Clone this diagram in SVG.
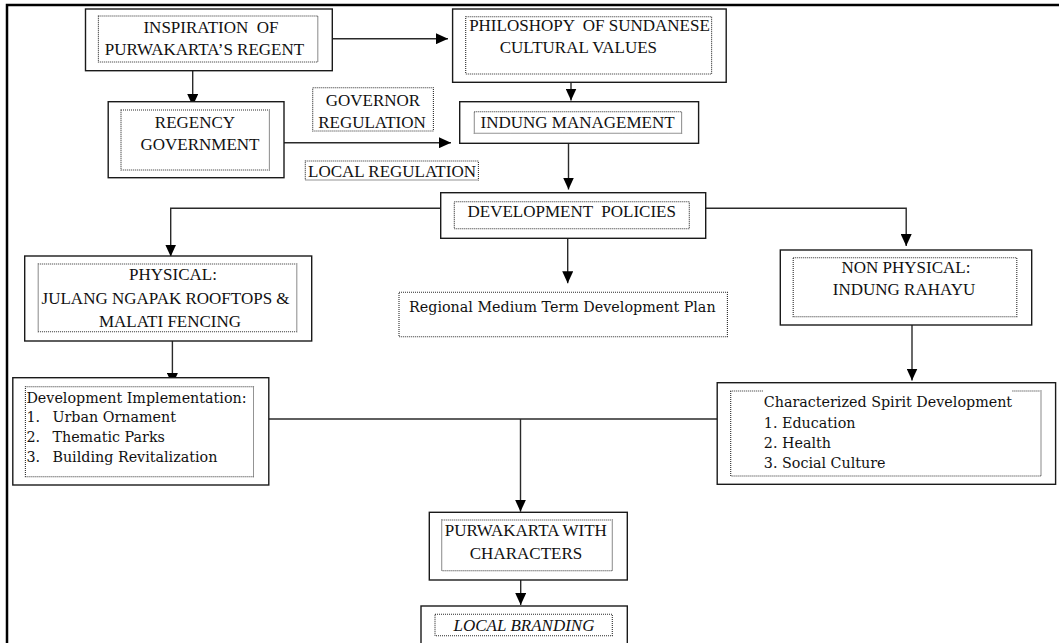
<svg xmlns="http://www.w3.org/2000/svg" width="1059" height="643" viewBox="0 0 1059 643">
<style>
.box{fill:#fff;stroke:#1a1a1a;stroke-width:1.4}
.dot{fill:none;stroke:#2a2a2a;stroke-width:1.1;stroke-dasharray:1 1}
.cap{font-family:"Liberation Serif","Times New Roman",serif;font-size:17px;fill:#111;text-anchor:middle}
.low{font-family:"DejaVu Serif","Liberation Serif",serif;font-size:14.3px;fill:#111}
.con{fill:none;stroke:#2a2a2a;stroke-width:1.4}
.frame{fill:none;stroke:#000;stroke-width:2.5}
</style>
<defs>
<marker id="ah" viewBox="0 0 12 11" refX="12" refY="5.5" markerWidth="12" markerHeight="11" markerUnits="userSpaceOnUse" orient="auto">
<path d="M0,0 L12,5.5 L0,11 Z" fill="#000"/>
</marker>
</defs>
<rect width="1059" height="643" fill="#fff"/>
<path class="frame" d="M7,643 V5 H1059"/>

<g id="connectors">
<path class="con" d="M332.3,38.7 H448" marker-end="url(#ah)"/>
<path class="con" d="M192.7,70.7 V106" marker-end="url(#ah)"/>
<path class="con" d="M284,142.7 H451" marker-end="url(#ah)"/>
<path class="con" d="M571,82.3 V100.5" marker-end="url(#ah)"/>
<path class="con" d="M568.5,143.3 V189.5" marker-end="url(#ah)"/>
<path class="con" d="M440.7,208.3 H170.7 V256.5" marker-end="url(#ah)"/>
<path class="con" d="M567.7,238.3 V283.3" marker-end="url(#ah)"/>
<path class="con" d="M705.7,208.3 H906.2 V246" marker-end="url(#ah)"/>
<path class="con" d="M172.4,341 V385" marker-end="url(#ah)"/>
<path class="con" d="M912,325 V380.5" marker-end="url(#ah)"/>
<path class="con" d="M268.8,419 H717.2"/>
<path class="con" d="M520.5,419 V511.7" marker-end="url(#ah)"/>
<path class="con" d="M520.7,580 V605" marker-end="url(#ah)"/>
</g>

<g id="inspiration">
<rect class="box" x="85.5" y="9" width="246.8" height="61.7"/>
<rect class="dot" x="98.4" y="16" width="219.4" height="46"/>
<text class="cap" x="211" y="33.3" xml:space="preserve">INSPIRATION  OF</text>
<text class="cap" x="204.5" y="55">PURWAKARTA’S REGENT</text>
</g>

<g id="philosophy">
<rect class="box" x="452.6" y="9" width="273.6" height="73.3"/>
<rect class="dot" x="465.7" y="16.7" width="245.9" height="57.3"/>
<text class="cap" x="589.5" y="30.7" xml:space="preserve">PHILOSHOPY  OF SUNDANESE</text>
<text class="cap" x="578.4" y="53.3">CULTURAL VALUES</text>
</g>

<g id="regency">
<rect class="box" x="108.2" y="101.7" width="175.8" height="76"/>
<rect class="dot" x="121" y="110" width="148.4" height="60"/>
<text class="cap" x="195" y="128.3">REGENCY</text>
<text class="cap" x="200" y="150">GOVERNMENT</text>
</g>

<g id="governor-regulation">
<rect class="dot" x="312.7" y="87.7" width="120.7" height="43.3"/>
<text class="cap" x="373" y="106">GOVERNOR</text>
<text class="cap" x="372" y="128.3">REGULATION</text>
</g>

<g id="local-regulation">
<rect class="dot" x="305.3" y="161" width="173.1" height="19"/>
<text class="cap" x="392" y="176.7">LOCAL REGULATION</text>
</g>

<g id="indung-management">
<rect class="box" x="459.7" y="101.7" width="238.9" height="41.6"/>
<rect class="dot" x="474.3" y="111.7" width="207.3" height="21.6"/>
<text class="cap" x="577.6" y="128.3">INDUNG MANAGEMENT</text>
</g>

<g id="development-policies">
<rect class="box" x="440.7" y="192.7" width="265" height="45.6"/>
<rect class="dot" x="454.3" y="201.7" width="235" height="27"/>
<text class="cap" x="571.7" y="216.7" xml:space="preserve">DEVELOPMENT  POLICIES</text>
</g>

<g id="physical">
<rect class="box" x="24.7" y="256" width="287" height="85"/>
<rect class="dot" x="38.2" y="264" width="258.6" height="67.7"/>
<text class="cap" x="173" y="280">PHYSICAL:</text>
<text class="cap" x="165.6" y="304">JULANG NGAPAK ROOFTOPS &amp;</text>
<text class="cap" x="170" y="326.7">MALATI FENCING</text>
</g>

<g id="regional-plan">
<rect class="dot" x="399" y="292.3" width="328.4" height="44.4"/>
<text class="low" x="409" y="311.7">Regional Medium Term Development Plan</text>
</g>

<g id="non-physical">
<rect class="box" x="780.3" y="250" width="251.4" height="75"/>
<rect class="dot" x="793.2" y="257.7" width="223.6" height="59"/>
<text class="cap" x="906" y="273.3">NON PHYSICAL:</text>
<text class="cap" x="904" y="295">INDUNG RAHAYU</text>
</g>

<g id="development-implementation">
<rect class="box" x="12.8" y="377.7" width="256" height="107.3"/>
<rect class="dot" x="25.4" y="386.7" width="228.1" height="90"/>
<text class="low" x="26.4" y="403.3">Development Implementation:</text>
<text class="low" x="26.4" y="422.3">1.</text>
<text class="low" x="52.4" y="422.3">Urban Ornament</text>
<text class="low" x="26.4" y="441.7">2.</text>
<text class="low" x="52.4" y="441.7">Thematic Parks</text>
<text class="low" x="26.4" y="461.7">3.</text>
<text class="low" x="52.4" y="461.7">Building Revitalization</text>
</g>

<g id="characterized-spirit">
<rect class="box" x="717.2" y="382.7" width="338.4" height="101.6"/>
<path class="dot" d="M762.8,391 H730.7 V476 H1041 V391 H1012.4"/>
<text class="low" x="763.8" y="406.7">Characterized Spirit Development</text>
<text class="low" x="763.8" y="428.3">1. Education</text>
<text class="low" x="763.8" y="448.3">2. Health</text>
<text class="low" x="763.8" y="468.3">3. Social Culture</text>
</g>

<g id="purwakarta-characters">
<rect class="box" x="429.3" y="512.3" width="198" height="67.7"/>
<rect class="dot" x="441.7" y="520" width="170.6" height="50.7"/>
<text class="cap" x="525.8" y="536">PURWAKARTA WITH</text>
<text class="cap" x="526" y="559.3">CHARACTERS</text>
</g>

<g id="local-branding">
<rect class="box" x="421" y="606" width="206.3" height="50"/>
<rect class="dot" x="435" y="614.3" width="177.3" height="21.4"/>
<text class="cap" x="524" y="631" font-style="italic">LOCAL BRANDING</text>
</g>
</svg>
